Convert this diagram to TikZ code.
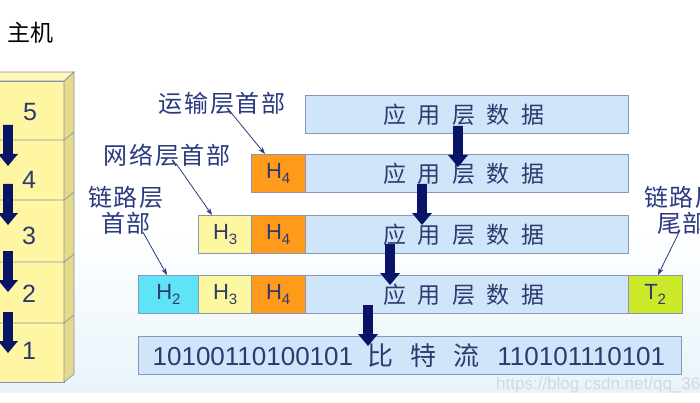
\documentclass[tikz,border=0pt]{standalone}
\usepackage{fontspec}
\setmainfont{Liberation Sans}
\newfontfamily\cjk{Noto Sans CJK SC}
\newfontfamily\cjkl[LetterSpace=8]{Noto Sans CJK SC}
\usetikzlibrary{calc,arrows.meta}
\definecolor{txt}{HTML}{2E3A6E}
\definecolor{lbl}{HTML}{2B3A80}
\definecolor{datafill}{HTML}{CFE6FA}
\definecolor{boxline}{HTML}{8A96B8}
\definecolor{hfour}{HTML}{FF9A1A}
\definecolor{hthree}{HTML}{FDF7A0}
\definecolor{htwo}{HTML}{5FE3F7}
\definecolor{ttwo}{HTML}{CDEA2A}
\definecolor{navy}{HTML}{0A1466}
\definecolor{stackfront}{HTML}{FFF6A4}
\definecolor{stackside}{HTML}{E4DA8C}
\definecolor{stacktop}{HTML}{FFF8BC}
\definecolor{stackline}{HTML}{8A8FA8}
\definecolor{bgc}{HTML}{E8F4FA}
\definecolor{wm}{HTML}{D2D9DF}
\tikzset{
  cell/.style={draw=boxline, line width=0.8pt, anchor=north west, inner sep=0pt,
    text=txt, minimum height=38pt},
  databox/.style={cell, fill=datafill, minimum width=323pt,
    font=\fontsize{23}{23}\selectfont\cjk},
  hbox/.style={cell, minimum width=53.5pt, font=\fontsize{22}{22}\selectfont},
  bitsbox/.style={cell, fill=datafill, minimum width=543pt, font=\fontsize{26}{26}\selectfont},
  labeltext/.style={text=lbl, font=\fontsize{24}{26}\selectfont\cjkl, align=center, inner sep=0pt},
  pointer/.style={draw=lbl, line width=0.8pt, -{Stealth[length=7pt,width=5pt]}},
  stacknum/.style={text=txt, font=\fontsize{25}{25}\selectfont, inner sep=0pt},
  blockarr/.pic={\fill[navy] (-4.8,0) -- (4.8,0) -- (4.8,29) -- (10,29) -- (0,41) -- (-10,29) -- (-4.8,29) -- cycle;}
}
\newcommand{\dat}{应\hspace{0.5em}用\hspace{0.5em}层\hspace{0.5em}数\hspace{0.5em}据}
\newcommand{\hsub}[2]{#1\raisebox{-5pt}{\fontsize{15}{15}\selectfont #2}}
\begin{document}
\begin{tikzpicture}[x=1pt,y=-1pt]
\useasboundingbox (0,0) rectangle (700,403);
\clip (0,0) rectangle (700,403);
% background
\fill[white] (0,0) rectangle (700,403);
\fill[top color=white, bottom color=bgc] (0,230) rectangle (700,392);
% host title
\node[text=black, font=\fontsize{23}{23}\selectfont\cjk, inner sep=0pt] (host) at (30,33) {主机};
% stack
\fill[stacktop, draw=stackline, line width=0.7pt] (-10,81) -- (64,81) -- (74,72) -- (0,72) -- cycle;
\fill[stackfront, draw=stackline, line width=0.7pt] (-10,81) rectangle (64,382);
\fill[stackside, draw=stackline, line width=0.7pt] (64,81) -- (74,72) -- (74,374) -- (64,382) -- cycle;
\foreach \yy in {140,200,262,323}{
  \draw[stackline, line width=0.7pt] (-10,\yy) -- (64,\yy) -- (74,\yy-8);
}
\node[stacknum] (n5) at (30,112) {5};
\node[stacknum] (n4) at (29,180) {4};
\node[stacknum] (n3) at (29,236) {3};
\node[stacknum] (n2) at (29,294) {2};
\node[stacknum] (n1) at (29,351) {1};
\pic at (8,125) {blockarr};
\pic at (8,184) {blockarr};
\pic at (8,251) {blockarr};
\pic at (8,312) {blockarr};
% row 1
\node[databox] (d1) at (305,95) {\hspace{-6pt}\dat};
% row 2
\node[hbox, fill=hfour] (h4b) at (251,154) {\hsub{H}{4}};
\node[databox] (d2) at (305,154) {\hspace{-6pt}\dat};
% row 3
\node[hbox, fill=hthree] (h3c) at (198,215) {\hsub{H}{3}};
\node[hbox, fill=hfour] (h4c) at (251,215) {\hsub{H}{4}};
\node[databox] (d3) at (305,215) {\hspace{-6pt}\dat};
% row 4
\node[hbox, fill=htwo, minimum width=60pt] (h2d) at (138,275) {\hsub{H}{2}};
\node[hbox, fill=hthree] (h3d) at (198,275) {\hsub{H}{3}};
\node[hbox, fill=hfour] (h4d) at (251,275) {\hsub{H}{4}};
\node[databox] (d4) at (305,275) {\hspace{-6pt}\dat};
\node[hbox, fill=ttwo] (t2d) at (628,275) {\hsub{T}{2}};
% row 5
\node[bitsbox] (bits) at (138,336) {\hspace{-2pt}10100110100101\hspace{0.55em}{\cjk 比\hspace{0.65em}特\hspace{0.65em}流}\hspace{0.7em}110101110101};
% arrows between rows
\pic at (458,126) {blockarr};
\pic at (422,184) {blockarr};
\pic at (390,244) {blockarr};
\pic at (368,305) {blockarr};
% labels
\node[labeltext] (l1) at (222,103) {运输层首部};
\node[labeltext] (l2) at (167,155) {网络层首部};
\node[labeltext] (l3) at (126,210) {链路层\\首部};
\node[labeltext] (l4) at (682,210) {链路层\\尾部};
\draw[pointer] ($(l1.south)+(8,-3)$) -- ($(h4b.north west)+(14,0)$);
\draw[pointer] ($(l2.south)+(9,-3)$) -- ($(h3c.north west)+(14,0)$);
\draw[pointer] ($(l3.south)+(17,-2)$) -- ($(h2d.north west)+(29,0)$);
\draw[pointer] ($(l4.south)+(-2,-4)$) -- ($(t2d.north west)+(30,0)$);
% watermark
\node[text=wm, font=\fontsize{17}{17}\selectfont, anchor=west, inner sep=0pt] (wmk) at (496,385) {https://blog.csdn.net/qq\_3665};
\end{tikzpicture}
\end{document}
